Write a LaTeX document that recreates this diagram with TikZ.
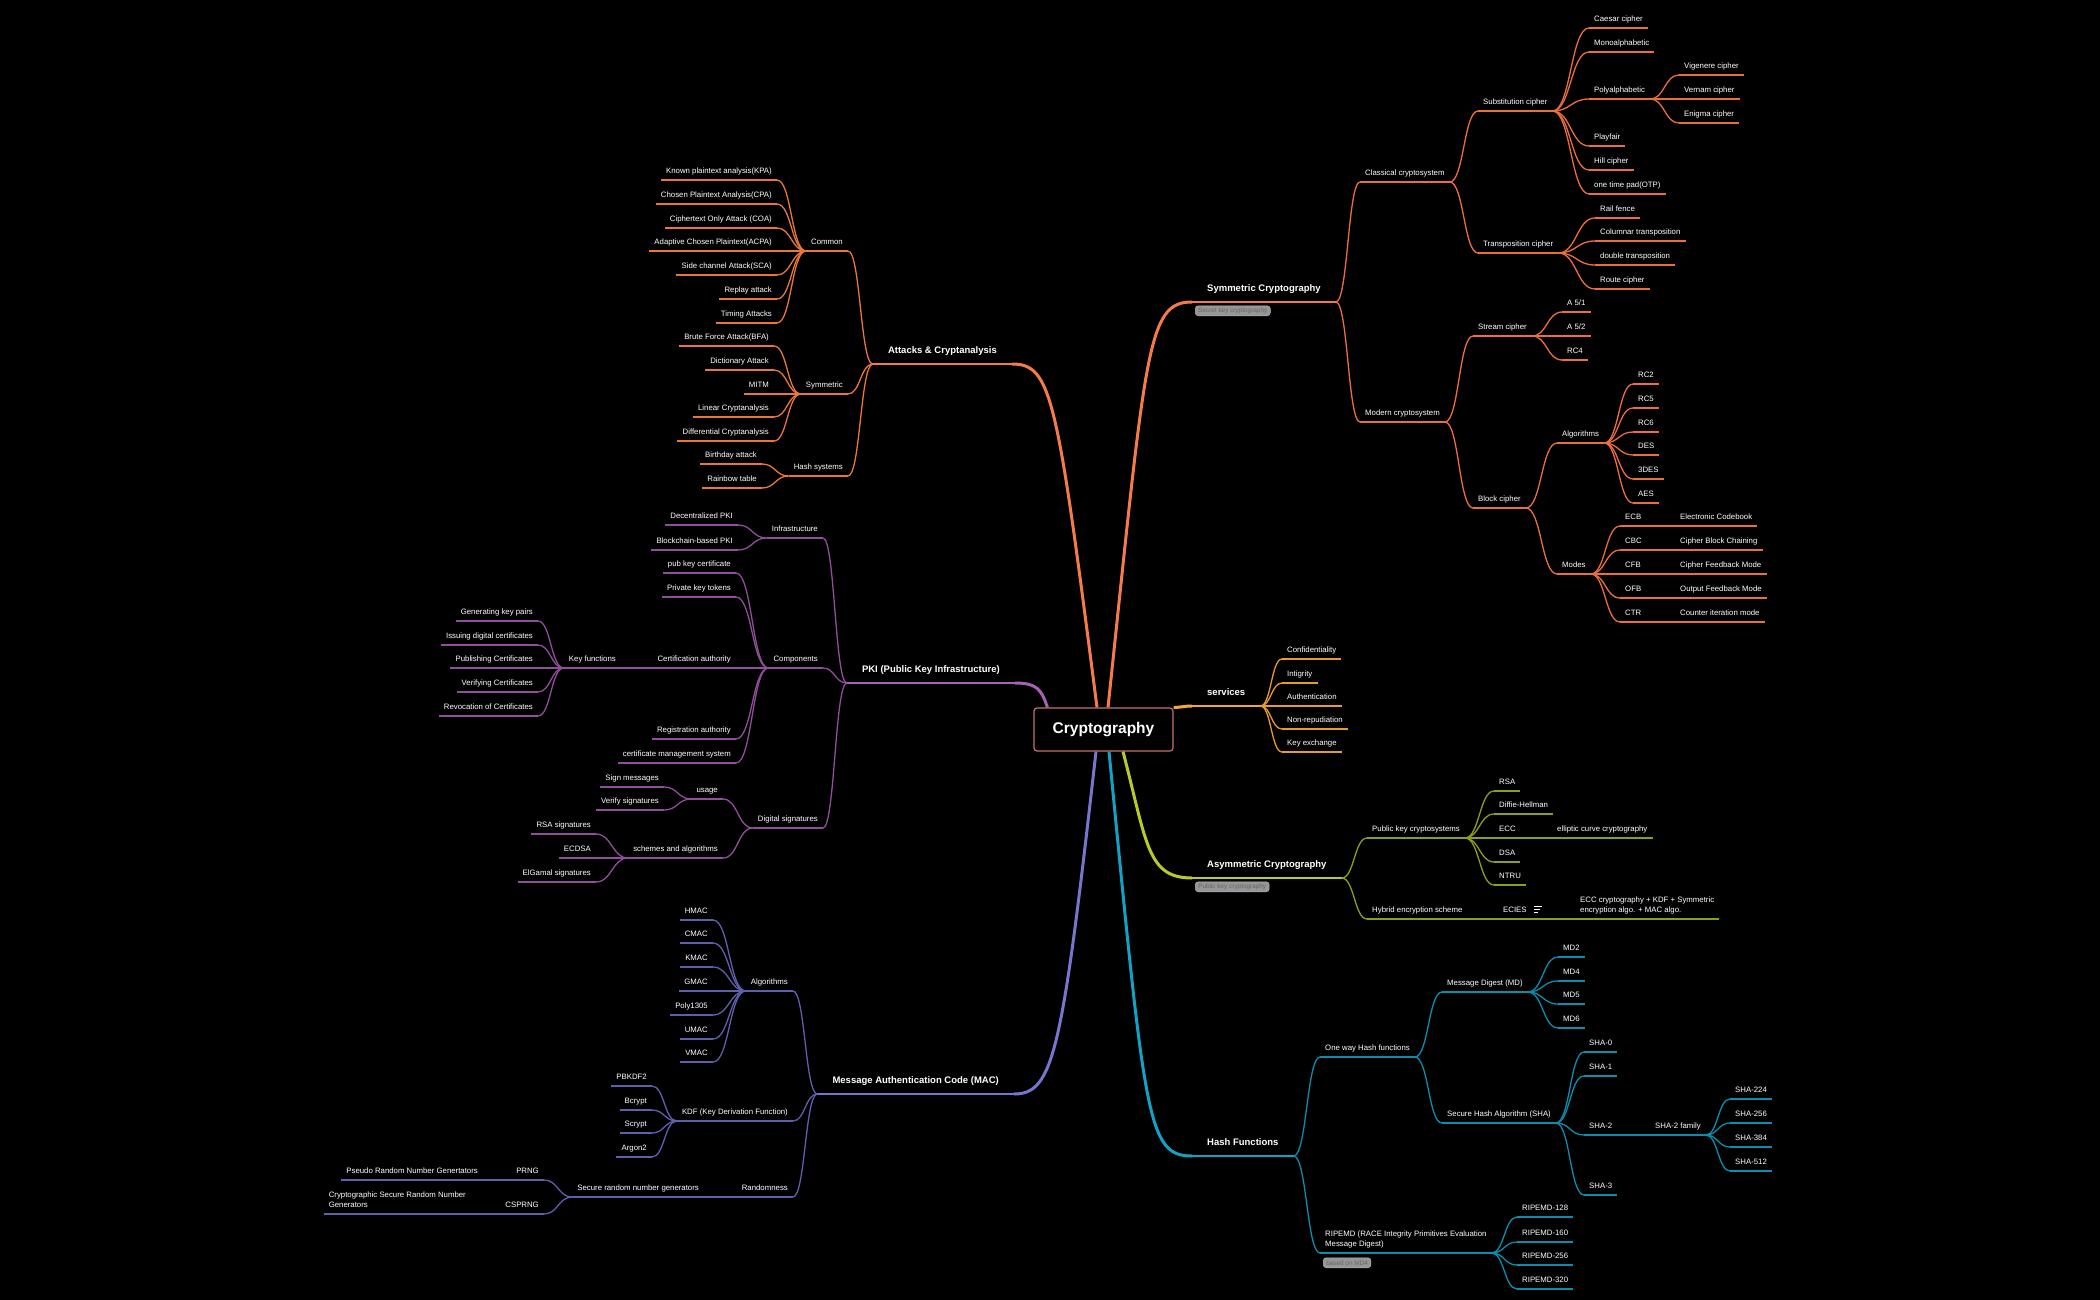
\documentclass[tikz,border=0pt]{standalone}
\usepackage{fontspec}
\setmainfont{Liberation Sans}
\usetikzlibrary{calc}

\definecolor{symmain}{HTML}{F47B4A}
\definecolor{symc}{HTML}{EC6E3C}
\definecolor{atkc}{HTML}{EA773A}
\definecolor{servmain}{HTML}{F4A83A}
\definecolor{servc}{HTML}{E99A2C}
\definecolor{asymmain}{HTML}{BACB28}
\definecolor{asymc}{HTML}{8F9C1C}
\definecolor{hashmain}{HTML}{12A2C6}
\definecolor{hashc}{HTML}{0B8DAE}
\definecolor{pkimain}{HTML}{A862B3}
\definecolor{pkic}{HTML}{8F4F9A}
\definecolor{macmain}{HTML}{7676CB}
\definecolor{macc}{HTML}{5F5FAE}
\definecolor{rootline}{HTML}{C5726E}
\definecolor{tagfill}{HTML}{969696}
\definecolor{tagtext}{HTML}{666666}
\definecolor{tagline}{HTML}{B4B4B4}

\newcommand\subtxt{\fontsize{7.8}{10.5}\selectfont}
\newcommand\maintxt{\fontsize{9.5}{11}\selectfont\bfseries}
\newcommand\roottxt{\fontsize{15.5}{18}\selectfont\bfseries}
\newcommand\tagtxt{\fontsize{6.4}{7}\selectfont}

\tikzset{
  rs/.style={anchor=south west},
  ls/.style={anchor=south east},
  sub/.style={font=\subtxt, text=white, align=left, inner xsep=5pt, inner ysep=3.5pt, text height=5.8pt, text depth=2.5pt,
    append after command={(\tikzlastnode.south west) edge[draw=#1, line width=1.3pt] (\tikzlastnode.south east)}},
  branch/.style={font=\maintxt, text=white, inner xsep=15pt, inner ysep=8pt, text height=7pt, text depth=2.5pt,
    append after command={(\tikzlastnode.south west) edge[draw=#1, line width=2pt] (\tikzlastnode.south east)}},
  rootbox/.style={font=\roottxt, text=white, draw=rootline, line width=1.2pt, fill=black, rounded corners=3pt, minimum width=139pt, minimum height=43pt},
  tag/.style={font=\tagtxt, text=tagtext, fill=tagfill, draw=tagline, line width=0.5pt, rounded corners=3pt, inner xsep=3pt, inner ysep=0pt, minimum height=10pt},
  link/.style={draw=#1, line width=1.3pt, to path={let \p1=(\tikztostart), \p2=(\tikztotarget) in .. controls (0.5*\x1+0.5*\x2,\y1) and (0.5*\x1+0.5*\x2,\y2) .. (\tikztotarget)}},
  trunk/.style={draw=#1, line width=3pt},
}

\begin{document}
\begin{tikzpicture}[x=1pt, y=-1pt]
\fill[black] (0,0) rectangle (2100,1300);
\useasboundingbox (0,0) rectangle (2100,1300);

\node[rootbox] (root) at (1103.5,729.5) {Cryptography};

\node[branch=symmain, rs] (symm) at (1192,302) {Symmetric Cryptography};
\node[sub=symc, rs] (cls) at (1360,182) {Classical cryptosystem};
\node[sub=symc, rs] (mod) at (1360,422) {Modern cryptosystem};
\node[sub=symc, rs] (subs) at (1478,111) {Substitution cipher};
\node[sub=symc, rs] (trans) at (1478,253) {Transposition cipher};
\node[sub=symc, rs] (caesar) at (1589,28) {Caesar cipher};
\node[sub=symc, rs] (mono) at (1589,52) {Monoalphabetic};
\node[sub=symc, rs] (poly) at (1589,99) {Polyalphabetic};
\node[sub=symc, rs] (playfair) at (1589,146) {Playfair};
\node[sub=symc, rs] (hill) at (1589,170) {Hill cipher};
\node[sub=symc, rs] (otp) at (1589,194) {one time pad(OTP)};
\node[sub=symc, rs] (vig) at (1679,75) {Vigenere cipher};
\node[sub=symc, rs] (vern) at (1679,99) {Vernam cipher};
\node[sub=symc, rs] (enig) at (1679,123) {Enigma cipher};
\node[sub=symc, rs] (rail) at (1595,218) {Rail fence};
\node[sub=symc, rs] (colum) at (1595,241) {Columnar transposition};
\node[sub=symc, rs] (dbl) at (1595,265) {double transposition};
\node[sub=symc, rs] (route) at (1595,289) {Route cipher};
\node[sub=symc, rs] (strm) at (1473,336) {Stream cipher};
\node[sub=symc, rs] (blk) at (1473,508) {Block cipher};
\node[sub=symc, rs] (a51) at (1562,312) {A 5/1};
\node[sub=symc, rs] (a52) at (1562,336) {A 5/2};
\node[sub=symc, rs] (rc4) at (1562,360) {RC4};
\node[sub=symc, rs] (alg) at (1557,443) {Algorithms};
\node[sub=symc, rs] (modes) at (1557,574) {Modes};
\node[sub=symc, rs] (rc2) at (1633,384) {RC2};
\node[sub=symc, rs] (rc5) at (1633,408) {RC5};
\node[sub=symc, rs] (rc6) at (1633,432) {RC6};
\node[sub=symc, rs] (des) at (1633,455) {DES};
\node[sub=symc, rs] (tdes) at (1633,479) {3DES};
\node[sub=symc, rs] (aes) at (1633,503) {AES};
\node[sub=symc, rs] (ecb) at (1620,526) {ECB};
\node[sub=symc, rs] (cbc) at (1620,550) {CBC};
\node[sub=symc, rs] (cfb) at (1620,574) {CFB};
\node[sub=symc, rs] (ofb) at (1620,598) {OFB};
\node[sub=symc, rs] (ctr) at (1620,622) {CTR};
\node[sub=symc, rs] (ecbx) at (1675,526) {Electronic Codebook};
\node[sub=symc, rs] (cbcx) at (1675,550) {Cipher Block Chaining};
\node[sub=symc, rs] (cfbx) at (1675,574) {Cipher Feedback Mode};
\node[sub=symc, rs] (ofbx) at (1675,598) {Output Feedback Mode};
\node[sub=symc, rs] (ctrx) at (1675,622) {Counter iteration mode};

\node[branch=servmain, rs] (serv) at (1192,706) {services};
\node[sub=servc, rs] (conf) at (1282,659) {Confidentiality};
\node[sub=servc, rs] (intg) at (1282,683) {Intigrity};
\node[sub=servc, rs] (auth) at (1282,706) {Authentication};
\node[sub=servc, rs] (nonr) at (1282,729) {Non-repudiation};
\node[sub=servc, rs] (keyx) at (1282,752) {Key exchange};

\node[branch=asymmain, rs] (asym) at (1192,878) {Asymmetric Cryptography};
\node[sub=asymc, rs] (pkc) at (1367,838) {Public key cryptosystems};
\node[sub=asymc, rs] (hyb) at (1367,919) {Hybrid encryption scheme};
\node[sub=asymc, rs] (rsa) at (1494,791) {RSA};
\node[sub=asymc, rs] (dh) at (1494,814) {Diffie-Hellman};
\node[sub=asymc, rs] (ecc) at (1494,838) {ECC};
\node[sub=asymc, rs] (dsa) at (1494,862) {DSA};
\node[sub=asymc, rs] (ntru) at (1494,885) {NTRU};
\node[sub=asymc, rs] (eccx) at (1552,838) {elliptic curve cryptography};
\node[sub=asymc, rs] (ecies) at (1498,919) {ECIES};
\node[sub=asymc, rs] (eciesx) at (1575,919) {ECC cryptography + KDF + Symmetric\\encryption algo. + MAC algo.};

\node[branch=hashmain, rs] (hash) at (1192,1156) {Hash Functions};
\node[sub=hashc, rs] (oneway) at (1320,1057) {One way Hash functions};
\node[sub=hashc, rs] (ripe) at (1320,1253) {RIPEMD (RACE Integrity Primitives Evaluation\\Message Digest)};
\node[sub=hashc, rs] (md) at (1442,992) {Message Digest (MD)};
\node[sub=hashc, rs] (sha) at (1442,1123) {Secure Hash Algorithm (SHA)};
\node[sub=hashc, rs] (md2) at (1558,957) {MD2};
\node[sub=hashc, rs] (md4) at (1558,981) {MD4};
\node[sub=hashc, rs] (md5) at (1558,1004) {MD5};
\node[sub=hashc, rs] (md6) at (1558,1028) {MD6};
\node[sub=hashc, rs] (sha0) at (1584,1052) {SHA-0};
\node[sub=hashc, rs] (sha1) at (1584,1076) {SHA-1};
\node[sub=hashc, rs] (sha2) at (1584,1135) {SHA-2};
\node[sub=hashc, rs] (sha3) at (1584,1195) {SHA-3};
\node[sub=hashc, rs] (sha2f) at (1650,1135) {SHA-2 family};
\node[sub=hashc, rs] (sha224) at (1730,1099) {SHA-224};
\node[sub=hashc, rs] (sha256) at (1730,1123) {SHA-256};
\node[sub=hashc, rs] (sha384) at (1730,1147) {SHA-384};
\node[sub=hashc, rs] (sha512) at (1730,1171) {SHA-512};
\node[sub=hashc, rs] (rmd128) at (1517,1217) {RIPEMD-128};
\node[sub=hashc, rs] (rmd160) at (1517,1242) {RIPEMD-160};
\node[sub=hashc, rs] (rmd256) at (1517,1265) {RIPEMD-256};
\node[sub=hashc, rs] (rmd320) at (1517,1289) {RIPEMD-320};

\node[branch=symmain, ls] (attk) at (1012,364) {Attacks \& Cryptanalysis};
\node[sub=atkc, ls] (common) at (848,251) {Common};
\node[sub=atkc, ls] (symatk) at (848,394) {Symmetric};
\node[sub=atkc, ls] (hsys) at (848,476) {Hash systems};
\node[sub=atkc, ls] (kpa) at (777,180) {Known plaintext analysis(KPA)};
\node[sub=atkc, ls] (cpa) at (777,204) {Chosen Plaintext Analysis(CPA)};
\node[sub=atkc, ls] (coa) at (777,228) {Ciphertext Only Attack (COA)};
\node[sub=atkc, ls] (acpa) at (777,251) {Adaptive Chosen Plaintext(ACPA)};
\node[sub=atkc, ls] (sca) at (777,275) {Side channel Attack(SCA)};
\node[sub=atkc, ls] (replay) at (777,299) {Replay attack};
\node[sub=atkc, ls] (timing) at (777,323) {Timing Attacks};
\node[sub=atkc, ls] (bfa) at (774,346) {Brute Force Attack(BFA)};
\node[sub=atkc, ls] (dict) at (774,370) {Dictionary Attack};
\node[sub=atkc, ls] (mitm) at (774,394) {MITM};
\node[sub=atkc, ls] (lin) at (774,417) {Linear Cryptanalysis};
\node[sub=atkc, ls] (diff) at (774,441) {Differential Cryptanalysis};
\node[sub=atkc, ls] (bday) at (762,464) {Birthday attack};
\node[sub=atkc, ls] (rainbow) at (762,488) {Rainbow table};

\node[branch=pkimain, ls] (pki) at (1015,683) {PKI (Public Key Infrastructure)};
\node[sub=pkic, ls] (infra) at (823,538) {Infrastructure};
\node[sub=pkic, ls] (comp) at (823,668) {Components};
\node[sub=pkic, ls] (dsig) at (823,828) {Digital signatures};
\node[sub=pkic, ls] (dpki) at (738,525) {Decentralized PKI};
\node[sub=pkic, ls] (bpki) at (738,550) {Blockchain-based PKI};
\node[sub=pkic, ls] (pubc) at (736,573) {pub key certificate};
\node[sub=pkic, ls] (privt) at (736,597) {Private key tokens};
\node[sub=pkic, ls] (ca) at (736,668) {Certification authority};
\node[sub=pkic, ls] (ra) at (736,739) {Registration authority};
\node[sub=pkic, ls] (cms) at (736,763) {certificate management system};
\node[sub=pkic, ls] (keyf) at (621,668) {Key functions};
\node[sub=pkic, ls] (gen) at (538,621) {Generating key pairs};
\node[sub=pkic, ls] (iss) at (538,645) {Issuing digital certificates};
\node[sub=pkic, ls] (publ) at (538,668) {Publishing Certificates};
\node[sub=pkic, ls] (verc) at (538,692) {Verifying Certificates};
\node[sub=pkic, ls] (revc) at (538,716) {Revocation of Certificates};
\node[sub=pkic, ls] (usage) at (723,799) {usage};
\node[sub=pkic, ls] (sch) at (723,858) {schemes and algorithms};
\node[sub=pkic, ls] (sign) at (664,787) {Sign messages};
\node[sub=pkic, ls] (vsig) at (664,810) {Verify signatures};
\node[sub=pkic, ls] (rsas) at (596,834) {RSA signatures};
\node[sub=pkic, ls] (ecdsa) at (596,858) {ECDSA};
\node[sub=pkic, ls] (elg) at (596,882) {ElGamal signatures};

\node[branch=macmain, ls] (mac) at (1014,1094) {Message Authentication Code (MAC)};
\node[sub=macc, ls] (malg) at (793,991) {Algorithms};
\node[sub=macc, ls] (kdf) at (793,1121) {KDF (Key Derivation Function)};
\node[sub=macc, ls] (rand) at (793,1197) {Randomness};
\node[sub=macc, ls] (hmac) at (713,920) {HMAC};
\node[sub=macc, ls] (cmac) at (713,943) {CMAC};
\node[sub=macc, ls] (kmac) at (713,967) {KMAC};
\node[sub=macc, ls] (gmac) at (713,991) {GMAC};
\node[sub=macc, ls] (poly1305) at (713,1015) {Poly1305};
\node[sub=macc, ls] (umac) at (713,1039) {UMAC};
\node[sub=macc, ls] (vmac) at (713,1062) {VMAC};
\node[sub=macc, ls] (pbkdf) at (652,1086) {PBKDF2};
\node[sub=macc, ls] (bcrypt) at (652,1110) {Bcrypt};
\node[sub=macc, ls] (scrypt) at (652,1133) {Scrypt};
\node[sub=macc, ls] (argon) at (652,1157) {Argon2};
\node[sub=macc, ls] (srng) at (704,1197) {Secure random number generators};
\node[sub=macc, ls] (prng) at (544,1180) {PRNG};
\node[sub=macc, ls] (csprng) at (544,1214) {CSPRNG};
\node[sub=macc, ls] (psd) at (483,1180) {Pseudo Random Number Genertators};
\node[sub=macc, ls] (csd) at (471,1214) {Cryptographic Secure Random Number\\Generators};

\draw[trunk=symmain] ([xshift=4.5pt]root.north) .. controls +(38,-360) and +(-45,0) .. (symm.south west);
\draw[trunk=symmain] ([xshift=-6.5pt]root.north) .. controls +(-40,-310) and +(40,0) .. (attk.south east);
\draw[trunk=pkimain] ([xshift=14pt]root.north west) .. controls +(-6,-18) and +(22,0) .. (pki.south east);
\draw[trunk=servmain] (root.north east) .. controls +(8,0) and +(-8,0) .. (serv.south west);
\draw[trunk=asymmain] ([xshift=19.5pt]root.south) .. controls +(24,92) and +(-45,0) .. (asym.south west);
\draw[trunk=hashmain] ([xshift=5.5pt]root.south) .. controls +(36,368) and +(-45,0) .. (hash.south west);
\draw[trunk=macmain] ([xshift=-7.5pt]root.south) .. controls +(-34,300) and +(40,0) .. (mac.south east);

\foreach \c in {cls,mod} \draw[link=symc] (symm.south east) to (\c.south west);
\foreach \c in {subs,trans} \draw[link=symc] (cls.south east) to (\c.south west);
\foreach \c in {caesar,mono,poly,playfair,hill,otp} \draw[link=symc] (subs.south east) to (\c.south west);
\foreach \c in {vig,vern,enig} \draw[link=symc] (poly.south east) to (\c.south west);
\foreach \c in {rail,colum,dbl,route} \draw[link=symc] (trans.south east) to (\c.south west);
\foreach \c in {strm,blk} \draw[link=symc] (mod.south east) to (\c.south west);
\foreach \c in {a51,a52,rc4} \draw[link=symc] (strm.south east) to (\c.south west);
\foreach \c in {alg,modes} \draw[link=symc] (blk.south east) to (\c.south west);
\foreach \c in {rc2,rc5,rc6,des,tdes,aes} \draw[link=symc] (alg.south east) to (\c.south west);
\foreach \c in {ecb,cbc,cfb,ofb,ctr} {
  \draw[link=symc] (modes.south east) to (\c.south west);
  \draw[link=symc] (\c.south east) to (\c x.south west);
}

\foreach \c in {conf,intg,auth,nonr,keyx} \draw[link=servc] (serv.south east) to (\c.south west);

\foreach \c in {pkc,hyb} \draw[link=asymc] (asym.south east) to (\c.south west);
\foreach \c in {rsa,dh,ecc,dsa,ntru} \draw[link=asymc] (pkc.south east) to (\c.south west);
\draw[link=asymc] (ecc.south east) to (eccx.south west);
\draw[link=asymc] (hyb.south east) to (ecies.south west);
\draw[link=asymc] (ecies.south east) to (eciesx.south west);
\foreach \dy/\len in {5/8,2/6.5,-1/4.5} \draw[white, line width=0.8pt] ([xshift=2pt,yshift=\dy pt]ecies.east) -- ++(\len,0);

\foreach \c in {oneway,ripe} \draw[link=hashc] (hash.south east) to (\c.south west);
\foreach \c in {md,sha} \draw[link=hashc] (oneway.south east) to (\c.south west);
\foreach \c in {md2,md4,md5,md6} \draw[link=hashc] (md.south east) to (\c.south west);
\foreach \c in {sha0,sha1,sha2,sha3} \draw[link=hashc] (sha.south east) to (\c.south west);
\draw[link=hashc] (sha2.south east) to (sha2f.south west);
\foreach \c in {sha224,sha256,sha384,sha512} \draw[link=hashc] (sha2f.south east) to (\c.south west);
\foreach \c in {rmd128,rmd160,rmd256,rmd320} \draw[link=hashc] (ripe.south east) to (\c.south west);

\foreach \c in {common,symatk,hsys} \draw[link=atkc] (attk.south west) to (\c.south east);
\foreach \c in {kpa,cpa,coa,acpa,sca,replay,timing} \draw[link=atkc] (common.south west) to (\c.south east);
\foreach \c in {bfa,dict,mitm,lin,diff} \draw[link=atkc] (symatk.south west) to (\c.south east);
\foreach \c in {bday,rainbow} \draw[link=atkc] (hsys.south west) to (\c.south east);

\foreach \c in {infra,comp,dsig} \draw[link=pkic] (pki.south west) to (\c.south east);
\foreach \c in {dpki,bpki} \draw[link=pkic] (infra.south west) to (\c.south east);
\foreach \c in {pubc,privt,ca,ra,cms} \draw[link=pkic] (comp.south west) to (\c.south east);
\draw[link=pkic] (ca.south west) to (keyf.south east);
\foreach \c in {gen,iss,publ,verc,revc} \draw[link=pkic] (keyf.south west) to (\c.south east);
\foreach \c in {usage,sch} \draw[link=pkic] (dsig.south west) to (\c.south east);
\foreach \c in {sign,vsig} \draw[link=pkic] (usage.south west) to (\c.south east);
\foreach \c in {rsas,ecdsa,elg} \draw[link=pkic] (sch.south west) to (\c.south east);

\foreach \c in {malg,kdf,rand} \draw[link=macc] (mac.south west) to (\c.south east);
\foreach \c in {hmac,cmac,kmac,gmac,poly1305,umac,vmac} \draw[link=macc] (malg.south west) to (\c.south east);
\foreach \c in {pbkdf,bcrypt,scrypt,argon} \draw[link=macc] (kdf.south west) to (\c.south east);
\draw[link=macc] (rand.south west) to (srng.south east);
\foreach \c in {prng,csprng} \draw[link=macc] (srng.south west) to (\c.south east);
\draw[link=macc] (prng.south west) to (psd.south east);
\draw[link=macc] (csprng.south west) to (csd.south east);

\node[tag, anchor=north west] (secret) at (1195,305.5) {Secret key cryptography};
\node[tag, anchor=north west] (pubtag) at (1195,881.5) {Public key cryptography};
\node[tag, anchor=north west] (md4tag) at (1323,1257.5) {based on MD4};
\end{tikzpicture}
\end{document}
